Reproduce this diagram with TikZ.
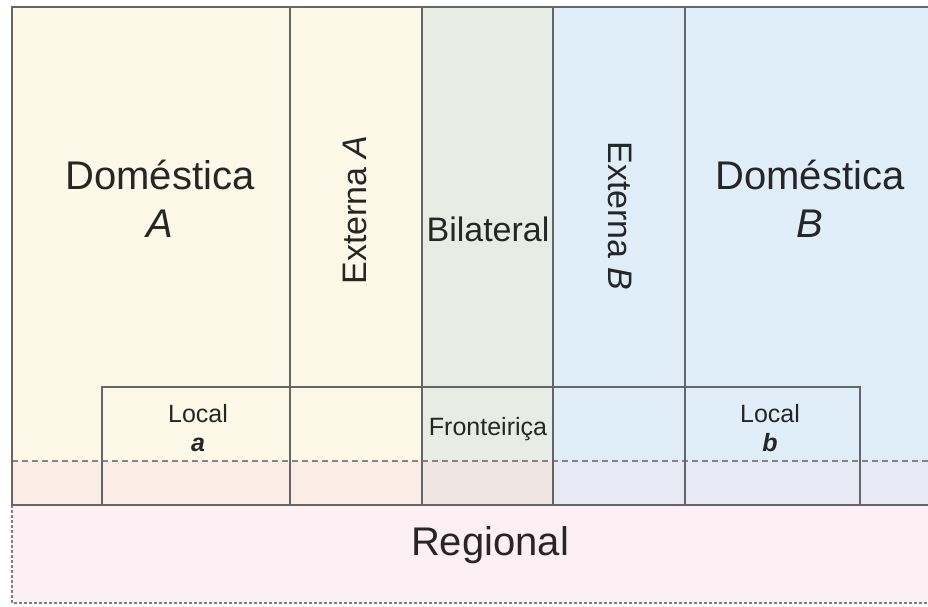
\documentclass[tikz,border=0pt]{standalone}
\usepackage{fontspec}
\setmainfont{Liberation Sans}
\usetikzlibrary{positioning}
\definecolor{creamA}{HTML}{FDF8E8}
\definecolor{creamAlow}{HTML}{FBEDE6}
\definecolor{greenBi}{HTML}{E7ECE4}
\definecolor{greenBilow}{HTML}{EFE6E3}
\definecolor{blueB}{HTML}{E0EEFA}
\definecolor{blueBlow}{HTML}{E7E9F4}
\definecolor{pinkReg}{HTML}{FDF0F4}
\definecolor{linegrey}{HTML}{666666}

\tikzset{
  zoneline/.style={draw=linegrey, line width=1.3pt},
  bigtext/.style={font=\fontsize{40}{44}\selectfont, align=center, text=black!85, inner sep=0pt},
  midtext/.style={font=\fontsize{34}{38}\selectfont, text=black!85, inner sep=0pt},
  smalltext/.style={font=\fontsize{25}{29}\selectfont, align=center, text=black!85, inner sep=0pt}
}

\begin{document}
\begin{tikzpicture}[x=1pt, y=-1pt]
\useasboundingbox[fill=white] (0,0) rectangle (928,607);
% column fills, upper and lower band
\foreach \xa/\xb/\cup/\clow in {12/290/creamA/creamAlow, 290/422/creamA/creamAlow,
    422/553/greenBi/greenBilow, 553/685/blueB/blueBlow, 685/928/blueB/blueBlow}{
  \fill[\cup] (\xa,7) rectangle (\xb,461);
  \fill[\clow] (\xa,461) rectangle (\xb,505);
}
% regional band
\fill[pinkReg] (12,505) rectangle (928,603);
\draw[linegrey!85, line width=1.3pt, dash pattern=on 2.5pt off 2.5pt] (12,505) -- (12,603) -- (928,603);
% dashed divider
\draw[linegrey!80, line width=1.1pt, dash pattern=on 6pt off 4pt] (12,461) -- (928,461);
% column borders
\draw[zoneline] (928,7) -- (12,7) -- (12,505) -- (928,505);
\foreach \xc in {290,422,553,685}
  \draw[zoneline] (\xc,7) -- (\xc,505);
% local / border box
\draw[zoneline] (102,505) -- (102,387) -- (860,387) -- (860,505);

% labels
\node[bigtext] (domA) at (160,199) {Doméstica\\[4pt]\textit{A}};
\node[midtext, rotate=90] (extA) at (355,210) {Externa \textit{A}};
\node[midtext] (bilat) at (488,229) {Bilateral};
\node[midtext, rotate=-90] (extB) at (620,216) {Externa \textit{B}};
\node[bigtext] (domB) at (810,199) {Doméstica\\[4pt]\textit{B}};
\node[smalltext] (locA) at (198,428) {Local\\\textbf{\textit{a}}};
\node[smalltext] (front) at (488,429) {Fronteiriça};
\node[smalltext] (locB) at (770,428) {Local\\\textbf{\textit{b}}};
\node[bigtext] (reg) at (490,545) {Regional};
\end{tikzpicture}
\end{document}
